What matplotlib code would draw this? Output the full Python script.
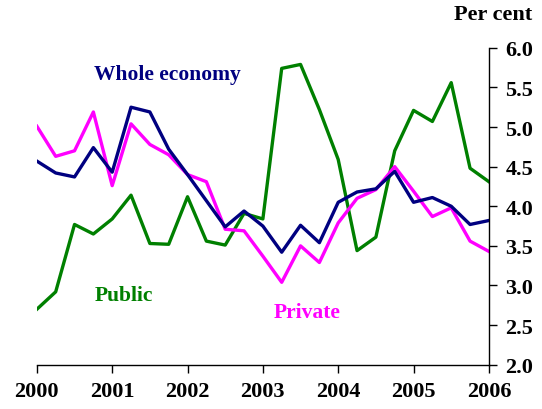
import matplotlib
matplotlib.use('Agg')
import matplotlib.pyplot as plt
import numpy as np
import pandas as pd

matplotlib.rcParams.update({
    'font.family': 'serif',
    'font.serif': ['Liberation Serif', 'DejaVu Serif'],
    'font.weight': 'bold',
})

quarters = pd.period_range('2000Q1', '2006Q1', freq='Q')
whole_economy = [4.57, 4.42, 4.37, 4.74, 4.43, 5.25, 5.19, 4.72, 4.40, 4.07, 3.74, 3.94, 3.75,
                 3.42, 3.76, 3.54, 4.05, 4.18, 4.22, 4.44, 4.05, 4.11, 4.00, 3.77, 3.82]
private = [5.01, 4.63, 4.70, 5.19, 4.26, 5.04, 4.78, 4.65, 4.40, 4.31, 3.71, 3.69, 3.37,
           3.04, 3.50, 3.29, 3.79, 4.10, 4.21, 4.50, 4.19, 3.87, 3.98, 3.56, 3.43]
public = [2.70, 2.92, 3.77, 3.65, 3.84, 4.14, 3.53, 3.52, 4.12, 3.56, 3.51, 3.91, 3.84,
          5.74, 5.79, 5.22, 4.59, 3.44, 3.61, 4.70, 5.21, 5.07, 5.56, 4.48, 4.31]
years = [2000, 2001, 2002, 2003, 2004, 2005, 2006]
y_ticks = [2.0, 2.5, 3.0, 3.5, 4.0, 4.5, 5.0, 5.5, 6.0]

x = quarters.year + (quarters.quarter - 1) / 4.0

fig = plt.figure(figsize=(5.42, 4.10), dpi=100)
ax = fig.add_axes([0.068, 0.108, 0.834, 0.773])

ax.plot(x, public, color='#008000', lw=2.4)
ax.plot(x, private, color='#FF00FF', lw=2.4)
ax.plot(x, whole_economy, color='#000080', lw=2.4)

ax.set_xlim(2000, 2006)
ax.set_ylim(2.0, 6.0)
ax.set_xticks(years)
ax.set_xticklabels([str(y) for y in years])
ax.set_yticks(y_ticks)
ax.set_yticklabels(['%.1f' % v for v in y_ticks])

ax.yaxis.tick_right()
for s in ['left', 'top']:
    ax.spines[s].set_visible(False)
ax.spines['right'].set_linewidth(1.0)
ax.spines['bottom'].set_linewidth(1.0)
ax.tick_params(axis='y', direction='out', length=6, width=1, pad=6, labelsize=16)
ax.tick_params(axis='x', direction='out', length=6, width=1, pad=6, labelsize=16)
for lab in ax.get_xticklabels() + ax.get_yticklabels():
    lab.set_fontweight('bold')

ax.text(2000.76, 5.67, 'Whole economy', color='#000080', fontsize=15.5, fontweight='bold', va='center')
ax.text(2000.77, 2.88, 'Public', color='#008000', fontsize=15.5, fontweight='bold', va='center')
ax.text(2003.14, 2.66, 'Private', color='#FF00FF', fontsize=15.5, fontweight='bold', va='center')
fig.text(0.982, 0.963, 'Per cent', ha='right', va='center', fontsize=16, fontweight='bold')

fig.savefig('out.png', dpi=100)
